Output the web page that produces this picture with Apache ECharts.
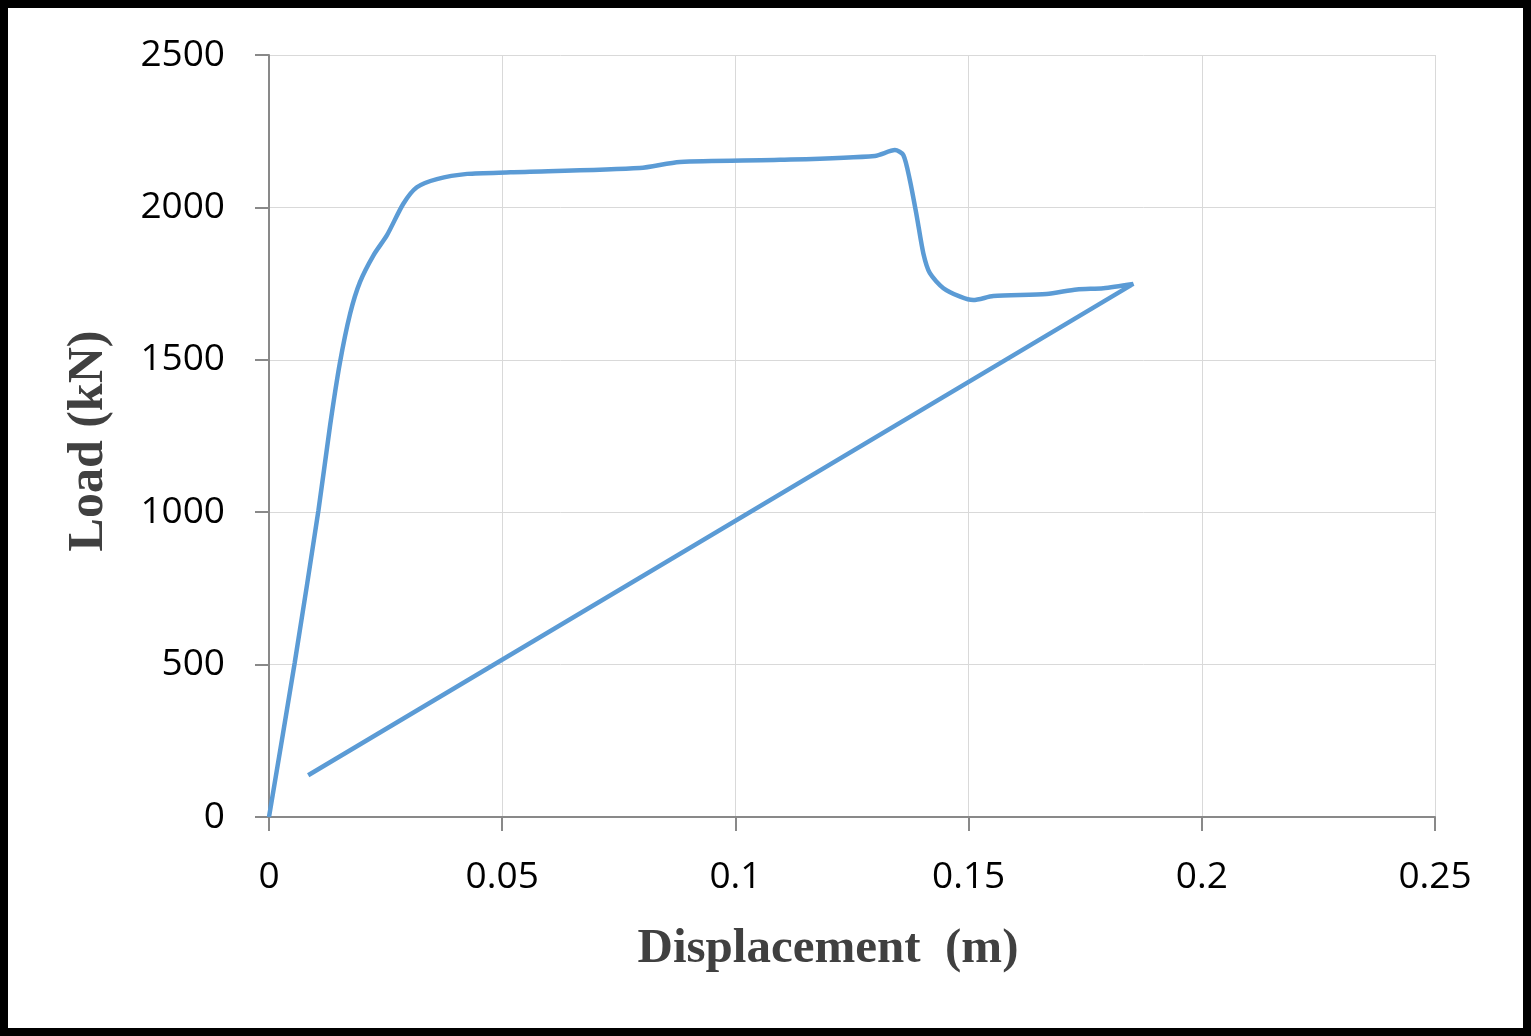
<!DOCTYPE html>
<html>
<head>
<meta charset="utf-8">
<script src="https://cdn.jsdelivr.net/npm/echarts@6/dist/echarts.min.js"></script>
<style>
html, body { margin: 0; padding: 0; background: #fff; }
#main { width: 1531px; height: 1036px; }
</style>
</head>
<body>
<div id="main"></div>
<script>
// displacement (m) and load (kN)
var displacement = [0, 0.0055, 0.0106, 0.0131, 0.0152, 0.0174, 0.0195, 0.0224, 0.0253, 0.0288, 0.0317, 0.036, 0.0425, 0.0518,
    0.0795, 0.0881, 0.1096, 0.1299, 0.1342, 0.136, 0.1374, 0.1389, 0.1403, 0.1417, 0.1446, 0.1482, 0.151,
    0.1553, 0.1667, 0.1732, 0.1789, 0.1853, 0.0084];
var load = [0, 505, 1006, 1285, 1490, 1652, 1755, 1843, 1909, 2012, 2066, 2093, 2110, 2115,
    2129, 2149, 2156, 2169, 2188, 2172, 2090, 1970, 1849, 1784, 1735, 1707, 1696,
    1709, 1716, 1731, 1735, 1749, 137];

var xTicks = [0, 0.05, 0.1, 0.15, 0.2, 0.25];
var yTicks = [0, 500, 1000, 1500, 2000, 2500];

var points = displacement.map(function (d, i) { return [d, load[i]]; });

var chart = echarts.init(document.getElementById('main'));
var option = {
    backgroundColor: '#fff',
    animation: false,
    graphic: [{
        type: 'rect',
        shape: { x: 4, y: 4, width: 1523, height: 1028 },
        style: { fill: 'none', stroke: '#000', lineWidth: 8 }
    }],
    grid: { left: 269, right: 96, top: 55, bottom: 219 },
    xAxis: {
        type: 'value',
        min: xTicks[0],
        max: xTicks[xTicks.length - 1],
        interval: 0.05,
        name: 'Displacement  (m)',
        nameLocation: 'middle',
        nameGap: 108,
        nameTextStyle: {
            fontFamily: 'Liberation Serif', fontWeight: 'bold', fontSize: 49, color: '#404040',
            padding: [0, 48, 0, 0]
        },
        axisLine: { show: true, lineStyle: { color: '#898989', width: 2 } },
        axisTick: { show: true, length: 14, lineStyle: { color: '#898989', width: 2 } },
        axisLabel: {
            margin: 42, fontFamily: 'Open Sans', fontSize: 37, color: '#000',
            formatter: function (v) { return String(+v.toFixed(2)); }
        },
        splitLine: { show: true, lineStyle: { color: '#d9d9d9', width: 1 } }
    },
    yAxis: {
        type: 'value',
        min: yTicks[0],
        max: yTicks[yTicks.length - 1],
        interval: 500,
        name: 'Load (kN)',
        nameLocation: 'middle',
        nameGap: 155,
        nameTextStyle: {
            fontFamily: 'Liberation Serif', fontWeight: 'bold', fontSize: 50, color: '#404040',
            padding: [0, 10, 0, 0]
        },
        axisLine: { show: true, lineStyle: { color: '#898989', width: 2 } },
        axisTick: { show: true, length: 14, lineStyle: { color: '#898989', width: 2 } },
        axisLabel: {
            margin: 44, fontFamily: 'Open Sans', fontSize: 37, color: '#000',
            formatter: function (v) { return String(v); }
        },
        splitLine: { show: true, lineStyle: { color: '#d9d9d9', width: 1 } }
    },
    series: [{
        type: 'line',
        data: points,
        smooth: 0.25,
        showSymbol: false,
        lineStyle: { color: '#5b9bd5', width: 4.5 }
    }]
};
chart.setOption(option);
window.addEventListener('resize', function () { chart.resize(); });
</script>
</body>
</html>
